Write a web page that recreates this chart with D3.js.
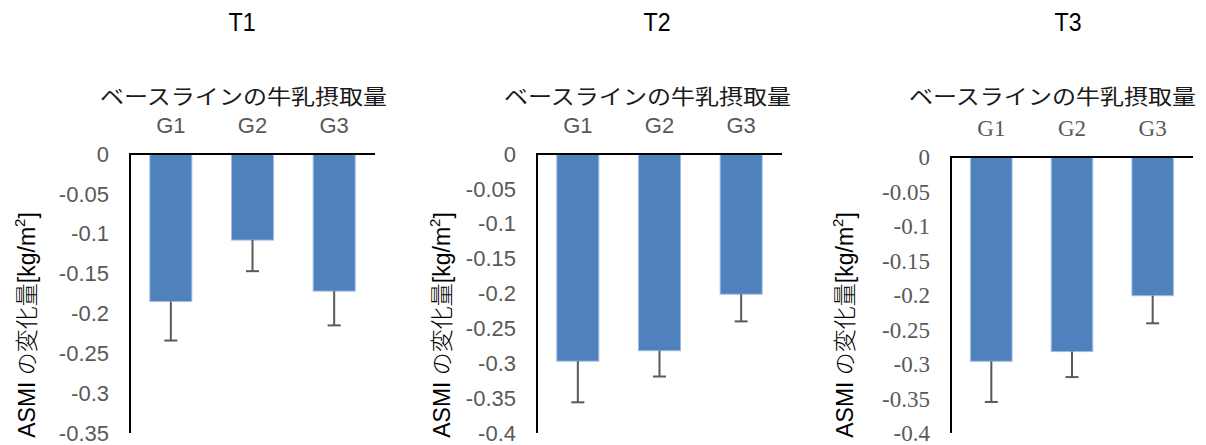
<!DOCTYPE html>
<html>
<head>
<meta charset="utf-8">
<script src="https://cdn.jsdelivr.net/npm/d3@7"></script>
<style>
  body { margin: 0; background: #fff; }
</style>
</head>
<body>
<svg id="chart" width="1206" height="445"></svg>
<script>
// Data
var groups = ["G1", "G2", "G3"];
var panelTitles = ["T1", "T2", "T3"];
var t1Means = [-0.185, -0.108, -0.172];
var t1Errors = [0.049, 0.039, 0.043];
var t2Means = [-0.297, -0.282, -0.201];
var t2Errors = [0.059, 0.037, 0.039];
var t3Means = [-0.296, -0.282, -0.201];
var t3Errors = [0.059, 0.037, 0.040];
var t1Ticks = [0, -0.05, -0.1, -0.15, -0.2, -0.25, -0.3, -0.35];
var t2Ticks = [0, -0.05, -0.1, -0.15, -0.2, -0.25, -0.3, -0.35, -0.4];
var t3Ticks = [0, -0.05, -0.1, -0.15, -0.2, -0.25, -0.3, -0.35, -0.4];
var headerLabel = "ベースラインの牛乳摂取量";

var svg = d3.select("#chart");

var sans = "'Liberation Sans', Arial, sans-serif";
var serif = "'Liberation Serif', 'Times New Roman', serif";
var cjk = "'Noto Sans CJK JP', sans-serif";

// panel layouts
var panels = [
    { title: panelTitles[0], titleX: 242, headerX: 243.5, means: t1Means, errors: t1Errors, ticks: t1Ticks,
      left: 130, right: 375, top: 154, bottom: 433, font: sans, fontSize: 22, labelX: 35 },
    { title: panelTitles[1], titleX: 657, headerX: 647.5, means: t2Means, errors: t2Errors, ticks: t2Ticks,
      left: 537, right: 782, top: 154, bottom: 433, font: sans, fontSize: 22, labelX: 450 },
    { title: panelTitles[2], titleX: 1068, headerX: 1052.5, means: t3Means, errors: t3Errors, ticks: t3Ticks,
      left: 951, right: 1193, top: 157, bottom: 433, font: serif, fontSize: 23, labelX: 853 }
];

panels.forEach(function (p) {
    var g = svg.append("g");

    var x = d3.scaleBand()
        .domain(groups)
        .range([p.left, p.right])
        .paddingInner(0.486)
        .paddingOuter(0.243);

    var y = d3.scaleLinear()
        .domain([0, d3.min(p.ticks)])
        .range([p.top, p.bottom]);

    // title
    g.append("text")
        .attr("x", p.titleX)
        .attr("y", 31)
        .attr("text-anchor", "middle")
        .attr("textLength", 27)
        .attr("lengthAdjust", "spacingAndGlyphs")
        .style("font-family", sans)
        .style("font-size", "26px")
        .style("fill", "#000")
        .text(p.title);

    // header over the categories
    g.append("text")
        .attr("x", p.headerX)
        .attr("y", 104)
        .attr("text-anchor", "middle")
        .attr("textLength", 287)
        .attr("lengthAdjust", "spacingAndGlyphs")
        .style("font-family", cjk)
        .style("font-size", "21px")
        .style("fill", "#1a1a1a")
        .text(headerLabel);

    // category labels
    g.selectAll(".cat")
        .data(groups)
        .enter()
        .append("text")
        .attr("class", "cat")
        .attr("x", function (d) { return x(d) + x.bandwidth() / 2; })
        .attr("y", p.top - 21)
        .attr("text-anchor", "middle")
        .attr("font-family", p.font)
        .attr("font-size", p.fontSize)
        .attr("fill", "#595959")
        .text(function (d) { return d; });

    // y tick labels
    g.selectAll(".tick-label")
        .data(p.ticks)
        .enter()
        .append("text")
        .attr("class", "tick-label")
        .attr("x", p.left - 21)
        .attr("y", function (d) { return y(d); })
        .attr("dy", "0.35em")
        .attr("text-anchor", "end")
        .attr("font-family", p.font)
        .attr("font-size", p.fontSize)
        .attr("fill", "#595959")
        .text(function (d) { return d === 0 ? "0" : String(d); });

    // bars
    g.selectAll(".bar")
        .data(p.means)
        .enter()
        .append("rect")
        .attr("class", "bar")
        .attr("x", function (d, i) { return x(groups[i]); })
        .attr("y", y(0))
        .attr("width", x.bandwidth())
        .attr("height", function (d) { return y(d) - y(0); })
        .style("fill", "#4F81BD")
        .style("stroke", "#9DBBE3")
        .style("stroke-width", 1);

    // error bars (downward only)
    var eb = g.selectAll(".err")
        .data(p.means)
        .enter()
        .append("g")
        .attr("class", "err");

    eb.append("line")
        .attr("x1", function (d, i) { return x(groups[i]) + x.bandwidth() / 2; })
        .attr("x2", function (d, i) { return x(groups[i]) + x.bandwidth() / 2; })
        .attr("y1", function (d) { return y(d); })
        .attr("y2", function (d, i) { return y(d - p.errors[i]); })
        .style("stroke", "#595959")
        .style("stroke-width", 2);

    eb.append("line")
        .attr("x1", function (d, i) { return x(groups[i]) + x.bandwidth() / 2 - 6.5; })
        .attr("x2", function (d, i) { return x(groups[i]) + x.bandwidth() / 2 + 6.5; })
        .attr("y1", function (d, i) { return y(d - p.errors[i]); })
        .attr("y2", function (d, i) { return y(d - p.errors[i]); })
        .style("stroke", "#595959")
        .style("stroke-width", 2);

    // axes lines
    g.append("line")
        .attr("x1", p.left).attr("x2", p.right)
        .attr("y1", y(0)).attr("y2", y(0))
        .style("stroke", "#000").style("stroke-width", 2);
    g.append("line")
        .attr("x1", p.left).attr("x2", p.left)
        .attr("y1", y(0) - 1).attr("y2", y.range()[1])
        .style("stroke", "#000").style("stroke-width", 2);

    // y axis label
    var lab = g.append("text")
        .attr("transform", "translate(" + p.labelX + ",325) rotate(-90)")
        .attr("text-anchor", "middle")
        .style("font-size", "23px")
        .style("fill", "#000");
    lab.append("tspan").style("font-family", sans).text("ASMI ");
    lab.append("tspan").style("font-family", cjk).style("font-weight", 300).text("の変化量");
    lab.append("tspan").style("font-family", sans).text("[kg/m");
    lab.append("tspan").style("font-family", sans).style("font-size", "15px")
        .attr("dy", "-0.7em").text("2");
    lab.append("tspan").style("font-family", sans).attr("dy", "0.5em").text("]");
});
</script>
</body>
</html>
